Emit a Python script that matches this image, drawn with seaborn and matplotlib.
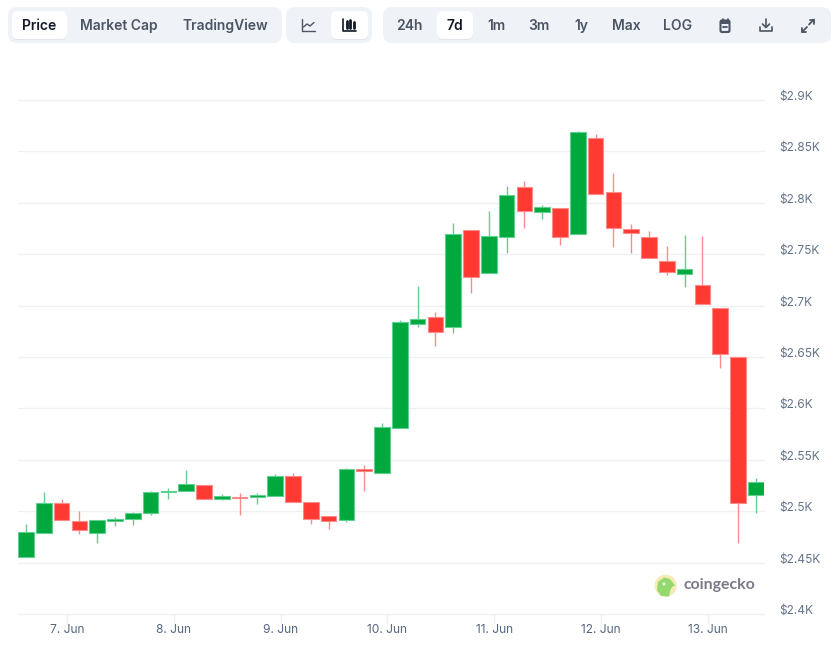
#!/usr/bin/env python
# -*- coding: utf-8 -*-

import numpy as np
import pandas as pd

import matplotlib
matplotlib.use('Agg')
import matplotlib.pyplot as plt
from matplotlib.patches import FancyBboxPatch, Circle, Polygon, Rectangle
from matplotlib.transforms import ScaledTranslation
import seaborn as sns

## ===================================================================== ##

opens = [2455, 2478.5, 2507.7, 2490.2, 2478.5, 2490, 2492, 2498, 2519, 2519.3, 2525, 2512, 2513.5, 2513.5,
	2515, 2534, 2508.6, 2495, 2491, 2540.7, 2536.8, 2580.9, 2681.8, 2689, 2678.9, 2773.2, 2731.4, 2766.4,
	2815, 2790.8, 2794.6, 2769.4, 2862.7, 2810.2, 2774.2, 2766.4, 2743, 2730.4, 2719.7, 2697.4, 2650, 2515.4]
closes = [2479.5, 2507.7, 2491.4, 2481.4, 2491.1, 2492, 2498, 2518.4, 2519.6, 2526, 2512, 2514.5, 2513, 2515.4,
	2534, 2508.6, 2492, 2490, 2540.7, 2539.4, 2581.6, 2683.7, 2686.7, 2674.6, 2769.4, 2727.5, 2767.4, 2807.3,
	2791.7, 2795.6, 2766.4, 2868.6, 2808.3, 2775.2, 2770.3, 2746, 2732.4, 2735.3, 2701.3, 2652.9, 2508.2, 2528.1]
highs = [2487.5, 2518.7, 2511.9, 2500, 2491.1, 2494, 2499, 2519.6, 2522.6, 2540, 2525, 2516.7, 2517.7, 2517.7,
	2536, 2537, 2508.6, 2495, 2542, 2545, 2585.8, 2686, 2719, 2693.8, 2780.3, 2773.2, 2792, 2816.3,
	2821.2, 2797.9, 2794.6, 2869.8, 2866.9, 2829, 2779.4, 2772.3, 2758, 2768.4, 2767.7, 2697.4, 2650, 2532]
lows = [2455, 2478.5, 2491.4, 2478, 2469, 2485.6, 2486.6, 2496.3, 2512, 2519.3, 2512, 2511, 2496.3, 2507,
	2515, 2508.6, 2487.5, 2482.7, 2489.8, 2519.6, 2536.8, 2580.9, 2679.5, 2660.7, 2673.3, 2712.5, 2731.4, 2751.5,
	2775.5, 2784.2, 2759.2, 2769.4, 2808.3, 2757.3, 2751.5, 2746, 2730, 2718.4, 2701.3, 2639.3, 2468.8, 2498.5]

price_ticks = [2400, 2450, 2500, 2550, 2600, 2650, 2700, 2750, 2800, 2850, 2900]
price_labels = ['$2.4K', '$2.45K', '$2.5K', '$2.55K', '$2.6K', '$2.65K', '$2.7K', '$2.75K', '$2.8K', '$2.85K', '$2.9K']
day_labels = ['7. Jun', '8. Jun', '9. Jun', '10. Jun', '11. Jun', '12. Jun', '13. Jun']

## ===================================================================== ##

GREEN, GREEN_LIGHT = '#00a83e', '#5fd08f'
RED, RED_LIGHT = '#ff3a33', '#ff8a8a'
TOOL_BG, TOOL_TEXT, TOOL_DARK = '#eff3f8', '#4b5563', '#111827'

sns.set_style('whitegrid', {'grid.color': '#eff0f3', 'axes.edgecolor': 'white'})
plt.rcParams['font.family'] = ['Inter', 'DejaVu Sans']

df = pd.DataFrame({'open': opens, 'close': closes, 'high': highs, 'low': lows})
df['i'] = np.arange(len(df))
df['base'] = df[['open', 'close']].min(axis=1)
df['size'] = (df['close'] - df['open']).abs()
df['up'] = df['close'] >= df['open']

fig = plt.figure(figsize=(8.35, 6.53), dpi=100)
ax = fig.add_axes([18/835., 1-614/653., 746/835., 514/653.])

for up, color, light in [(True, GREEN, GREEN_LIGHT), (False, RED, RED_LIGHT)]:
	sub = df[df['up'] == up]
	ax.vlines(sub['i'], sub['low'], sub['high'], color=light, lw=1., zorder=2)
	sns.barplot(data=sub, x='i', y='size', bottom=sub['base'].values, native_scale=True, ax=ax,
				color=color, saturation=1., width=0.87, errorbar=None,
				edgecolor=light, linewidth=0.8, zorder=3)

ax.set_xlim(-0.449, 41.46)
ax.set_ylim(2400, 2900)
ax.set_xlabel('')
ax.set_ylabel('')
ax.grid(False, axis='x')
ax.grid(True, axis='y', lw=1., clip_on=False)
ax.set_axisbelow(True)
sns.despine(ax=ax, left=True, right=True, top=True, bottom=True)

ax.set_xticks(np.arange(len(day_labels)) * 6 + 2.3)
ax.set_xticklabels(day_labels, color='#566780', fontsize=8.6)
ax.tick_params(axis='x', length=7, width=1., color='#eef0f4', pad=0.5, bottom=True)

ax.yaxis.tick_right()
ax.set_yticks(price_ticks)
ax.set_yticklabels(price_labels, color='#64748b', fontsize=8.6, va='center')
ax.tick_params(axis='y', length=0, pad=11, right=False)
shift = ScaledTranslation(0, 3/100., fig.dpi_scale_trans)
for t in ax.get_yticklabels():
	t.set_transform(t.get_transform() + shift)

## toolbar and logo, in pixel coordinates

ui = fig.add_axes([0, 0, 1, 1], facecolor='none', zorder=5)
ui.set_xlim(0, 835)
ui.set_ylim(653, 0)
ui.axis('off')

def box(x0, x1, y0, y1, r, color, z=1):
	ui.add_patch(FancyBboxPatch((x0+r, y0+r), x1-x0-2*r, y1-y0-2*r, boxstyle='round,pad={0},rounding_size={0}'.format(r),
								fc=color, ec='none', zorder=z))

def button(x0, x1):
	box(x0, x1, 11.5, 40, 6, '#dfe3ea', 2)
	box(x0, x1, 11, 39, 6, 'white', 3)

def label(x, s, color=TOOL_TEXT):
	ui.text(x, 30, s, color=color, fontsize=10, fontweight=600, ha='center', va='baseline', zorder=4)

def stroke(xs, ys, color=TOOL_TEXT, lw=1.):
	ui.plot(xs, ys, color=color, lw=lw, zorder=4, solid_capstyle='round', solid_joinstyle='round')

box(8, 282, 7, 43, 9, TOOL_BG)
box(286, 372, 7, 43, 9, TOOL_BG)
box(383, 831, 7, 43, 9, TOOL_BG)
button(12, 67)
button(331, 368)
button(437, 473)

label(39.5, 'Price', TOOL_DARK)
label(119, 'Market Cap')
label(225, 'TradingView')
label(409.5, '24h')
label(455, '7d', TOOL_DARK)
label(496, '1m')
label(539, '3m')
label(581, '1y')
label(626, 'Max')
label(678, 'LOG')

# line chart icon
stroke([301.5, 301.5, 315], [19, 30.5, 30.5])
stroke([303.5, 307, 310, 314], [27, 24, 26, 22.5])

# candle icon
stroke([343, 343, 356], [19, 30.5, 30.5], TOOL_DARK, 1.2)
for x, y0, y1 in [(346.5, 21, 28), (350, 20, 28), (353.5, 22, 28)]:
	stroke([x, x], [y0, y1], TOOL_DARK, 2.)

# calendar icon
ui.add_patch(FancyBboxPatch((720.5, 20.5), 9, 11.5, boxstyle='round,pad=0,rounding_size=1.5', fc='none', ec=TOOL_TEXT, lw=1.5, zorder=4))
ui.add_patch(Rectangle((720.5, 20), 9, 3.5, fc=TOOL_TEXT, ec='none', zorder=4))
stroke([722.5, 722.5], [18.5, 20.5], TOOL_TEXT, 1.2)
stroke([727.5, 727.5], [18.5, 20.5], TOOL_TEXT, 1.2)
stroke([723, 727], [27, 27], TOOL_TEXT, 1.3)

# download icon
stroke([766, 766], [18.5, 27], TOOL_TEXT, 1.2)
stroke([762.5, 766, 769.5], [24, 27.5, 24], TOOL_TEXT, 1.2)
stroke([760, 760, 772, 772], [27, 31, 31, 27], TOOL_TEXT, 1.2)

# expand icon
stroke([802, 807], [32, 27], TOOL_TEXT, 1.3)
stroke([802, 802, 806], [28, 32, 32], TOOL_TEXT, 1.3)
stroke([809, 814], [24.5, 19.5], TOOL_TEXT, 1.3)
stroke([810, 814, 814], [19.5, 19.5, 23.5], TOOL_TEXT, 1.3)

# logo
ui.add_patch(Circle((665.7, 585.7), 11, fc='#f6ebb4', ec='none', zorder=4))
ui.add_patch(Polygon([(661, 596), (657, 590), (658, 582), (664, 577.5), (670, 579), (675, 585.5), (672, 587), (670, 591), (669, 596.5)],
					 closed=True, fc='#93d96f', ec='none', zorder=4))
ui.add_patch(Circle((664, 584), 1.6, fc='#e8f5dc', ec='none', zorder=5))
ui.text(719, 585, 'coingecko', color='#7c7885', fontsize=11.4, fontweight='bold', family=['Lato', 'DejaVu Sans'], ha='center', va='center', zorder=4)

fig.savefig('out.png', dpi=100)
